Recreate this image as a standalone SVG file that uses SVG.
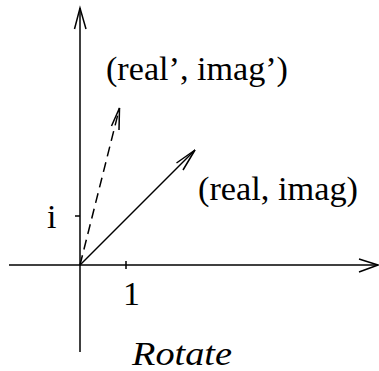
<svg xmlns="http://www.w3.org/2000/svg" width="379" height="371" viewBox="0 0 379 371">
<style>
.ln{stroke:#000;stroke-width:1.5;fill:none}
.t{font-family:"Liberation Serif","Times New Roman",serif;font-size:34px;fill:#000}
</style>
<rect width="379" height="371" fill="#fff"/>
<g id="axes">
<line class="ln" x1="80" y1="8" x2="80" y2="352"/>
<polyline class="ln" points="74.5,29 80,8 86,29"/>
<line class="ln" x1="9" y1="265" x2="378" y2="265"/>
<polyline class="ln" points="359,259 378,265 359,272"/>
<line class="ln" x1="126" y1="261" x2="126" y2="269"/>
<line class="ln" x1="75" y1="216" x2="80" y2="216"/>
</g>
<g id="connectors">
<line class="ln" x1="80" y1="265" x2="195" y2="150"/>
<polyline class="ln" points="176.5,163 195,150 183,170"/>
<line class="ln" x1="80" y1="265" x2="119.5" y2="108" stroke-dasharray="10,6"/>
<polyline class="ln" points="111.5,126 119.5,108 119,130"/>
</g>
<g id="labels">
<text class="t" x="106" y="80" textLength="182" lengthAdjust="spacingAndGlyphs">(real’, imag’)</text>
<text class="t" x="198" y="200" textLength="160" lengthAdjust="spacingAndGlyphs">(real, imag)</text>
<text class="t" x="47" y="228">i</text>
<text class="t" x="123" y="305">1</text>
<text class="t" x="132" y="365" font-size="30" font-style="italic" textLength="100" lengthAdjust="spacingAndGlyphs">Rotate</text>
</g>
</svg>
